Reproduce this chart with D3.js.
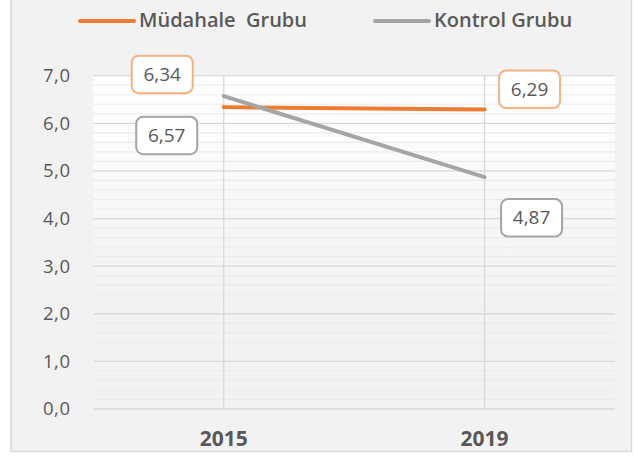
<!DOCTYPE html>
<html>
<head>
<meta charset="utf-8">
<script src="https://cdn.jsdelivr.net/npm/d3@7"></script>
<style>
  body { margin: 0; background: #fff; }
  text { font-family: "Open Sans", sans-serif; fill: #595959; }
</style>
</head>
<body>
<div id="chart"></div>
<script>
var width = 636,
    height = 457,
    margin = {top: 75.7, right: 21, bottom: 48, left: 93.3};

var years = ["2015", "2019"];
var mudahale = [6.34, 6.29];
var kontrol = [6.57, 4.87];
var yTicks = [0, 1, 2, 3, 4, 5, 6, 7];
var seriesNames = ["Müdahale  Grubu", "Kontrol Grubu"];

var series = [
  {name: seriesNames[0], values: mudahale, color: "#ED7D31", box: "#F4B183",
   offsets: [[-61.5, -33], [45, -20.5]], legendX: 80},
  {name: seriesNames[1], values: kontrol, color: "#A5A5A5", box: "#A5A5A5",
   offsets: [[-57, 39], [47, 40.5]], legendX: 375}
];

var svg = d3.select("#chart").append("svg")
    .attr("width", width)
    .attr("height", height);

// chart area background
svg.append("rect")
    .attr("x", 11).attr("y", -2)
    .attr("width", 620.5).attr("height", 453.5)
    .attr("fill", "#f2f2f2")
    .attr("stroke", "#d9d9d9")
    .attr("stroke-width", 1.5);

var x = d3.scaleBand()
    .domain(years)
    .range([margin.left, width - margin.right]);

var y = d3.scaleLinear()
    .domain([0, 7])
    .range([height - margin.bottom, margin.top]);

var defs = svg.append("defs");
var grad = defs.append("linearGradient")
    .attr("id", "plotGrad")
    .attr("x1", 0).attr("y1", 0).attr("x2", 0).attr("y2", 1);
grad.append("stop").attr("offset", "0%").attr("stop-color", "#ffffff");
grad.append("stop").attr("offset", "70%").attr("stop-color", "#f2f2f2");

svg.append("rect")
    .attr("x", margin.left)
    .attr("y", y(7))
    .attr("width", x.range()[1] - margin.left)
    .attr("height", y(0) - y(7))
    .attr("fill", "url(#plotGrad)");

// minor gridlines every 0.2
var minor = d3.range(0, 70, 2).map(function(d) { return d / 10; })
    .filter(function(d) { return d % 1 !== 0; });
svg.append("g").selectAll("line")
    .data(minor)
  .enter().append("line")
    .attr("x1", margin.left)
    .attr("x2", x.range()[1])
    .attr("y1", function(d) { return y(d); })
    .attr("y2", function(d) { return y(d); })
    .attr("stroke", "#ececec")
    .attr("stroke-width", 1.2);

// major gridlines
svg.append("g").selectAll("line")
    .data(yTicks)
  .enter().append("line")
    .attr("x1", margin.left)
    .attr("x2", x.range()[1])
    .attr("y1", function(d) { return y(d); })
    .attr("y2", function(d) { return y(d); })
    .attr("stroke", "#d9d9d9")
    .attr("stroke-width", 1.3);

// vertical lines at categories
svg.append("g").selectAll("line")
    .data(years)
  .enter().append("line")
    .attr("x1", function(d) { return x(d) + x.bandwidth() / 2; })
    .attr("x2", function(d) { return x(d) + x.bandwidth() / 2; })
    .attr("y1", y(7))
    .attr("y2", y(0))
    .attr("stroke", "#d9d9d9")
    .attr("stroke-width", 1.3);

// y axis labels
svg.append("g").selectAll("text")
    .data(yTicks)
  .enter().append("text")
    .attr("x", 70.5)
    .attr("y", function(d) { return y(d); })
    .attr("dy", "0.35em")
    .attr("text-anchor", "end")
    .attr("font-size", 18.5)
    .attr("letter-spacing", 0.5)
    .text(function(d) { return d3.format(".1f")(d).replace(".", ","); });

// x axis labels
svg.append("g").selectAll("text")
    .data(years)
  .enter().append("text")
    .attr("x", function(d) { return x(d) + x.bandwidth() / 2; })
    .attr("y", 438.5)
    .attr("dy", "0.35em")
    .attr("text-anchor", "middle")
    .attr("font-size", 21)
    .attr("font-weight", 700)
    .text(function(d) { return d; });

var line = d3.line()
    .x(function(d, i) { return x(years[i]) + x.bandwidth() / 2; })
    .y(function(d) { return y(d); });

series.forEach(function(s) {
  svg.append("path")
      .attr("d", line(s.values))
      .attr("fill", "none")
      .attr("stroke", s.color)
      .attr("stroke-width", 4)
      .attr("stroke-linecap", "round");
});

// data labels
series.forEach(function(s) {
  s.values.forEach(function(v, i) {
    var cx = x(years[i]) + x.bandwidth() / 2 + s.offsets[i][0],
        cy = y(v) + s.offsets[i][1];
    svg.append("rect")
        .attr("x", cx - 30.5)
        .attr("y", cy - 18.5)
        .attr("width", 61)
        .attr("height", 37.5)
        .attr("rx", 7)
        .attr("fill", "#ffffff")
        .attr("stroke", s.box)
        .attr("stroke-width", 2);
    svg.append("text")
        .attr("x", cx)
        .attr("y", cy)
        .attr("dy", "0.35em")
        .attr("text-anchor", "middle")
        .attr("font-size", 19)
        .text(d3.format(".2f")(v).replace(".", ","));
  });
});

// legend
series.forEach(function(s) {
  var g = svg.append("g").attr("transform", "translate(" + s.legendX + ",21)");
  g.append("line")
      .attr("x1", 0).attr("x2", 54)
      .attr("y1", 0).attr("y2", 0)
      .attr("stroke", s.color)
      .attr("stroke-width", 4)
      .attr("stroke-linecap", "round");
  g.append("text")
      .attr("x", 59)
      .attr("y", -1.4)
      .attr("dy", "0.35em")
      .attr("font-size", 20)
      .attr("font-weight", 600)
      .attr("xml:space", "preserve")
      .style("white-space", "pre")
      .text(s.name);
});
</script>
</body>
</html>
